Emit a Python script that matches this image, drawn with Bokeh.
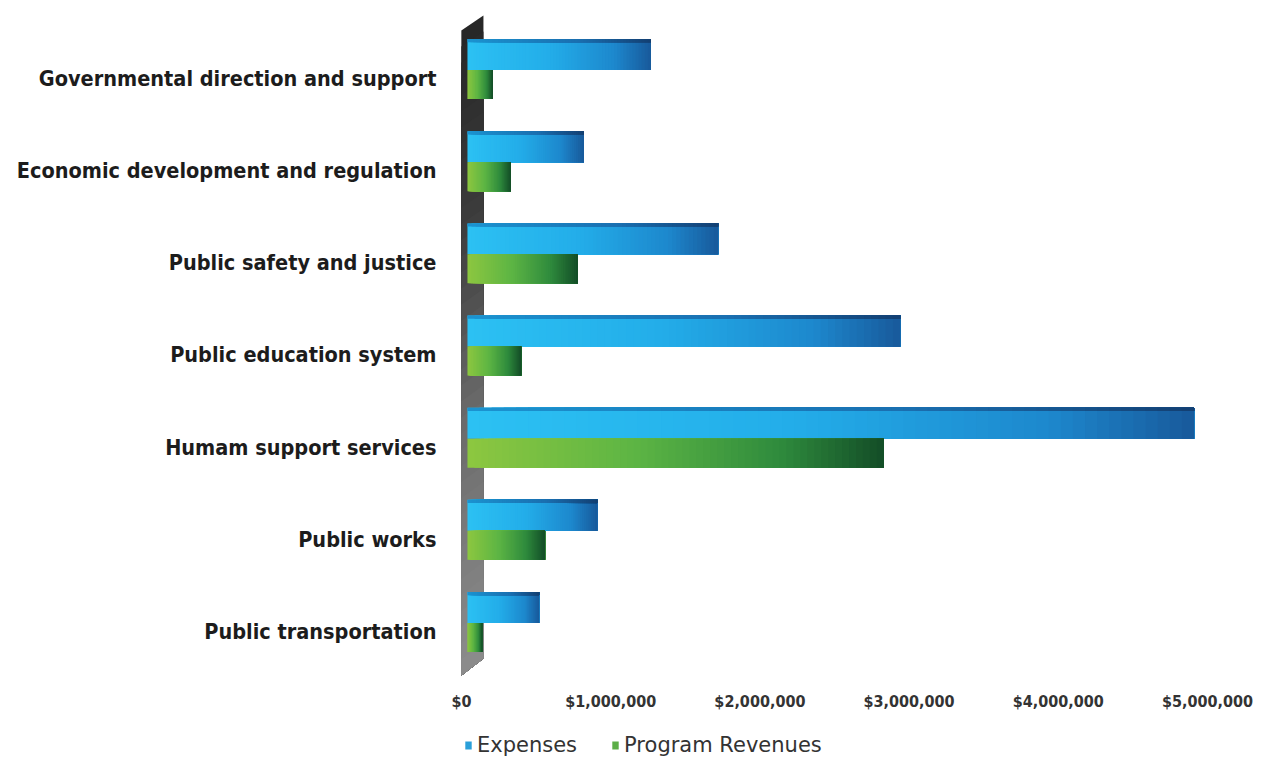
from bokeh.plotting import figure
from bokeh.layouts import column
from bokeh.models import (ColumnDataSource, Range1d, FixedTicker, NumeralTickFormatter,
                          Legend, LegendItem)
from bokeh.embed import file_html
from bokeh.resources import INLINE

# ---- data -------------------------------------------------------------
categories = [
    "Governmental direction and support",
    "Economic development and regulation",
    "Public safety and justice",
    "Public education system",
    "Humam support services",
    "Public works",
    "Public transportation",
]
expenses = [1_230_000, 780_000, 1_680_000, 2_900_000, 4_870_000, 870_000, 480_000]
program_revenues = [170_000, 290_000, 740_000, 360_000, 2_790_000, 520_000, 100_000]
x_ticks = [0, 1_000_000, 2_000_000, 3_000_000, 4_000_000, 5_000_000]
series_names = ["Expenses", "Program Revenues"]
series_colors = ["#2a9fd9", "#5cae47"]

# ---- styling constants --------------------------------------------------
DEPTH = 40_000          # 3-D offset of bar front faces from the back wall
BLUE_STOPS = [(0.0, "#2cc1f3"), (0.45, "#23ade9"), (0.8, "#1d88cd"), (1.0, "#18599b")]
BLUE_TOP_STOPS = [(0.0, "#1b93d0"), (0.6, "#1a6fb0"), (1.0, "#133f72")]
GREEN_STOPS = [(0.0, "#8dc740"), (0.4, "#5db544"), (0.75, "#2f8b3d"), (1.0, "#134d27")]
N_SLICES = 60

n = len(categories)
ypos = [n - 1 - i for i in range(n)]   # first category on top


def hex_to_rgb(h):
    h = h.lstrip("#")
    return tuple(int(h[i:i + 2], 16) for i in (0, 2, 4))


def ramp(stops, t):
    for (t0, c0), (t1, c1) in zip(stops[:-1], stops[1:]):
        if t <= t1:
            f = 0 if t1 == t0 else (t - t0) / (t1 - t0)
            a, b = hex_to_rgb(c0), hex_to_rgb(c1)
            return "#%02x%02x%02x" % tuple(round(a[k] + (b[k] - a[k]) * f) for k in range(3))
    return stops[-1][1]


def gradient_bars(values, centre_shift, stops):
    """Horizontal colour ramp: each slice runs to the bar's end and is painted
    over by the next one, so no gaps show between slices."""
    d = dict(left=[], right=[], y=[], color=[])
    for v, y in zip(values, ypos):
        for s in range(N_SLICES):
            t0, t1 = s / N_SLICES, (s + 1) / N_SLICES
            d["left"].append(DEPTH + v * t0)
            d["right"].append(DEPTH + v)
            d["y"].append(y + centre_shift)
            d["color"].append(ramp(stops, (t0 + t1) / 2))
    return ColumnDataSource(d)


p = figure(
    frame_width=805, frame_height=670,
    min_border_left=450, min_border_right=7, min_border_top=10, min_border_bottom=35,
    x_range=Range1d(-73_700, 5_321_700), y_range=Range1d(-0.532, 6.738),
    output_backend="svg", toolbar_location=None,
    background_fill_color="white", border_fill_color="white", outline_line_color=None,
)
p.grid.visible = False

# ---- back wall (vertical gradient, slanted top and bottom) -------------
wall_x0, wall_x1 = -1_000, 147_000
top_l, top_r, bot_l, bot_r = 6.521, 6.684, -0.477, -0.293
wall_stops = [(0.0, "#262626"), (0.3, "#3c3c3c"), (0.6, "#6a6a6a"), (1.0, "#8c8c8c")]
W = 40
wxs, wys, wcol = [], [], []
for k in range(W):
    a, b = k / W, (k + 1) / W
    wxs.append([wall_x0, wall_x1, wall_x1, wall_x0])
    wys.append([top_l + (bot_l - top_l) * a, top_r + (bot_r - top_r) * a, bot_r, bot_l])
    wcol.append(ramp(wall_stops, (a + b) / 2))
p.patches(xs=wxs, ys=wys, fill_color=wcol, line_color=None)

# ---- bars -----------------------------------------------------------------
blue_shift, blue_h = 0.26, 0.336
green_shift, green_h = -0.065, 0.315
top_h = 0.035

src_b = gradient_bars(expenses, blue_shift, BLUE_STOPS)
p.hbar(y="y", left="left", right="right", height=blue_h, source=src_b,
       fill_color="color", line_color=None)

# darker top face of the expense bars
src_t = gradient_bars(expenses, blue_shift + blue_h / 2 - top_h / 2, BLUE_TOP_STOPS)
p.hbar(y="y", left="left", right="right", height=top_h, source=src_t,
       fill_color="color", line_color=None)

src_g = gradient_bars(program_revenues, green_shift, GREEN_STOPS)
p.hbar(y="y", left="left", right="right", height=green_h, source=src_g,
       fill_color="color", line_color=None)

# ---- axes -------------------------------------------------------------------
label_font = "'Liberation Sans Narrow', 'DejaVu Sans Condensed', 'Roboto', sans-serif"

p.yaxis.ticker = FixedTicker(ticks=ypos)
p.yaxis.major_label_overrides = {y: c for y, c in zip(ypos, categories)}
p.yaxis.major_label_text_font = label_font
p.yaxis.major_label_text_font_style = "bold"
p.yaxis.major_label_text_font_size = "21.5px"
p.yaxis.major_label_text_color = "#1c1c1c"
p.yaxis.major_label_standoff = 14
p.yaxis.major_tick_in = 0
p.yaxis.major_tick_out = 0
p.yaxis.axis_line_color = None
p.yaxis.major_tick_line_color = None
p.yaxis.minor_tick_line_color = None

p.xaxis.ticker = FixedTicker(ticks=x_ticks)
p.xaxis.formatter = NumeralTickFormatter(format="$0,0")
p.xaxis.major_label_text_font = label_font
p.xaxis.major_label_text_font_style = "bold"
p.xaxis.major_label_text_font_size = "16px"
p.xaxis.major_label_text_color = "#333333"
p.xaxis.major_label_standoff = 11
p.xaxis.major_tick_in = 0
p.xaxis.major_tick_out = 0
p.xaxis.axis_line_color = None
p.xaxis.major_tick_line_color = None
p.xaxis.minor_tick_line_color = None

# ---- legend strip under the chart (its frame lines up with the chart's) ----
leg = figure(
    width=1262, height=42, min_border=0,
    x_range=Range1d(0, 1), y_range=Range1d(0, 1),
    output_backend="svg", toolbar_location=None,
    background_fill_color="white", border_fill_color="white", outline_line_color=None,
)
leg.axis.visible = False
leg.grid.visible = False
# swatch sources sit outside the visible range; only their legend glyphs show
swatch = ColumnDataSource(dict(left=[-3], right=[-2], top=[-2], bottom=[-3]))
items = []
for name, col in zip(series_names, series_colors):
    r = leg.quad(left="left", right="right", top="top", bottom="bottom", source=swatch,
                 fill_color=col, line_color=None)
    items.append(LegendItem(label=name, renderers=[r]))
legend = Legend(
    items=items, orientation="horizontal", location=(14, 0),
    glyph_width=8, glyph_height=10, label_standoff=5, spacing=34, padding=2, margin=0,
    label_text_font="DejaVu Sans", label_text_font_size="21px",
    label_text_color="#333333", border_line_color=None, background_fill_alpha=0,
)
leg.add_layout(legend, "center")

layout = column(p, leg, spacing=0)
open("out.html", "w").write(file_html(layout, INLINE))
